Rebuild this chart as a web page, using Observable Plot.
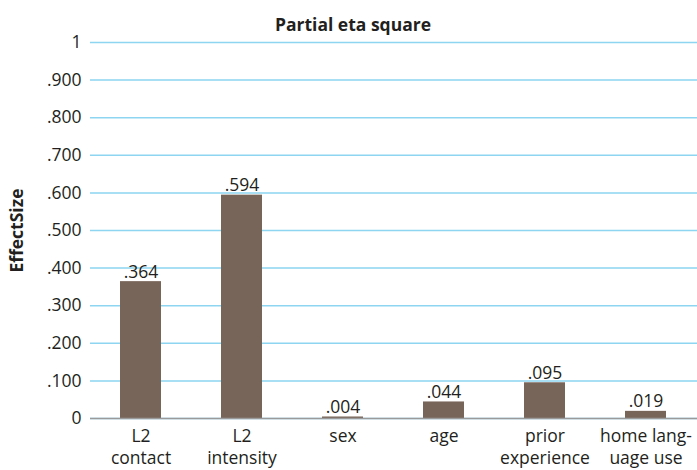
<!DOCTYPE html>
<html>
<head>
<meta charset="utf-8">
<script src="https://cdn.jsdelivr.net/npm/d3@7"></script>
<script src="https://cdn.jsdelivr.net/npm/@observablehq/plot@0.6"></script>
<style>
  html, body { margin: 0; padding: 0; background: #fff; }
  #chart svg { display: block; }
</style>
</head>
<body>
<div id="chart"></div>
<script>
const categories = ["L2\ncontact", "L2\nintensity", "sex", "age", "prior\nexperience", "home lang-\nuage use"];
const values = [0.364, 0.594, 0.004, 0.044, 0.095, 0.019];
const valueLabels = [".364", ".594", ".004", ".044", ".095", ".019"];
const yTicks = [0, 0.1, 0.2, 0.3, 0.4, 0.5, 0.6, 0.7, 0.8, 0.9, 1];
const yTickLabels = ["0", ".100", ".200", ".300", ".400", ".500", ".600", ".700", ".800", ".900", "1"];
const title = "Partial eta square";
const yLabel = "EffectSize";

const data = categories.map((c, i) => ({cat: c, value: values[i], label: valueLabels[i]}));
const font = "'Open Sans', 'Noto Sans', sans-serif";

const chart = Plot.plot({
  width: 697,
  height: 470,
  marginTop: 42,
  marginBottom: 52,
  marginLeft: 90,
  marginRight: 0,
  style: {fontFamily: font, fontSize: "17px", color: "#231f20", background: "#fff"},
  x: {domain: categories, paddingInner: 0.59, paddingOuter: 0.295},
  y: {domain: [0, 1]},
  marks: [
    Plot.gridY(yTicks, {stroke: "#8dd5f0", strokeOpacity: 1, strokeWidth: 1.5}),
    Plot.barY(data, {x: "cat", y: "value", fill: "#786559"}),
    Plot.ruleY([0], {stroke: "#9a9a9a", strokeWidth: 1.5}),
    Plot.text(data, {x: "cat", y: "value", text: "label", lineAnchor: "bottom", dy: -4, fontSize: 17.5, fill: "#231f20"}),
    Plot.axisY(yTicks, {tickSize: 0, tickPadding: 9, tickFormat: (d) => yTickLabels[yTicks.indexOf(d)], label: null, fontSize: 17.5, fill: "#231f20"}),
    Plot.axisX({tickSize: 0, tickPadding: 8, label: null, fontSize: 17.5, lineHeight: 1.25, fill: "#231f20"}),
    Plot.text([title], {frameAnchor: "top", dx: -41, dy: -24, fontWeight: "bold", fontSize: 17.5, fill: "#231f20"}),
    Plot.text([yLabel], {frameAnchor: "left", textAnchor: "middle", dx: -73, rotate: -90, fontWeight: "bold", fontSize: 17.5, fill: "#231f20"})
  ]
});
document.getElementById("chart").appendChild(chart);
</script>
</body>
</html>
